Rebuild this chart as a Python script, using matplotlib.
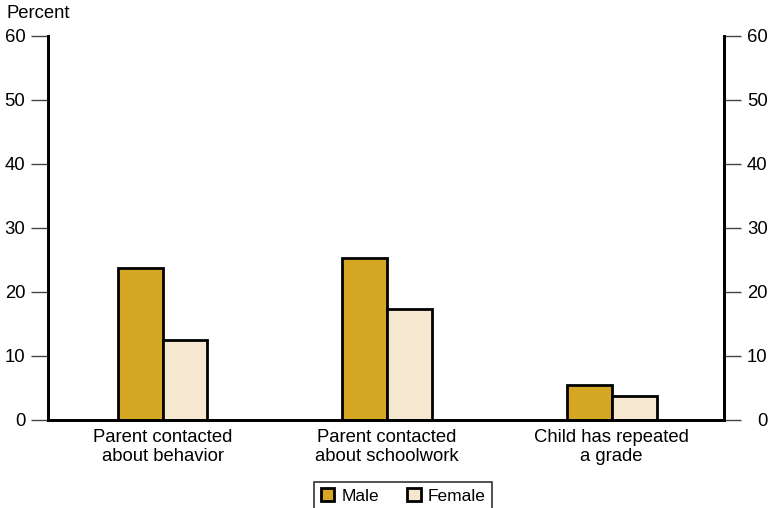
import matplotlib
matplotlib.use("Agg")
import matplotlib.pyplot as plt
import numpy as np

plt.rcParams['font.family'] = ['Liberation Sans', 'DejaVu Sans']

# --- Data ---
categories = ["Parent contacted\nabout behavior",
              "Parent contacted\nabout schoolwork",
              "Child has repeated\na grade"]
male = [23.6, 25.3, 5.4]
female = [12.4, 17.3, 3.7]
yticks = [0, 10, 20, 30, 40, 50, 60]

male_color = "#D5A722"
female_color = "#F6E8D0"

# --- Plot ---
fig = plt.figure(figsize=(7.72, 5.08), dpi=100)
ax = fig.add_axes([48 / 772, 1 - 419.5 / 508, 676 / 772, 384 / 508])

x = np.arange(len(categories))
w = 0.2
ax.bar(x - w / 2, male, w, color=male_color, edgecolor="black", linewidth=2, label="Male")
ax.bar(x + w / 2, female, w, color=female_color, edgecolor="black", linewidth=2, label="Female")

ax.set_xlim(-0.51, 2.5)
ax.set_ylim(0, 60)
ax.set_yticks(yticks)
ax.set_xticks(x)
ax.set_xticklabels(categories, fontsize=13.3, linespacing=1.15)
ax.tick_params(axis="x", length=0, pad=7)
ax.tick_params(axis="y", left=True, right=False, labelleft=True,
               length=12, width=1, color="#444444", labelsize=13.3, pad=4.3)

# right-hand axis with right-aligned labels
ax2 = ax.twinx()
ax2.set_ylim(0, 60)
ax2.set_yticks(yticks)
ax2.tick_params(axis="y", length=12, width=1, color="#444444", labelsize=13.3, pad=19.4)
for lbl in ax2.get_yticklabels():
    lbl.set_horizontalalignment("right")

for a in (ax, ax2):
    for side in ["left", "right", "bottom"]:
        a.spines[side].set_linewidth(2)
    a.spines["top"].set_visible(False)

fig.text(6 / 772, 1 - 14 / 508, "Percent", fontsize=13.3, va="center", ha="left")

leg = ax.legend(loc="upper center", bbox_to_anchor=(403 / 772, 1 - 482 / 508),
                bbox_transform=fig.transFigure,
                ncol=2, frameon=True, fancybox=False, edgecolor="black", fontsize=12.5,
                handlelength=0.8, handleheight=0.8, handletextpad=0.4, columnspacing=1.6,
                borderpad=0.35, borderaxespad=0)
leg.get_frame().set_linewidth(1.2)

fig.savefig("out.png", dpi=100)
